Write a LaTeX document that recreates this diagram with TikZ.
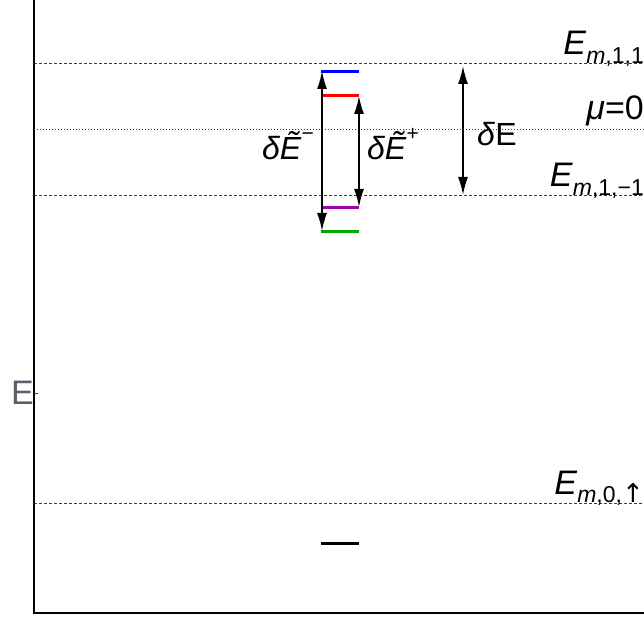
\documentclass[tikz,border=0pt]{standalone}
\usepackage{fontspec}
\setmainfont{Liberation Sans}
\newfontfamily\arrowfont{DejaVu Sans}
\usetikzlibrary{arrows.meta}
\definecolor{axiscol}{HTML}{000000}
\definecolor{refcol}{HTML}{3A3A3A}
\definecolor{labelgray}{HTML}{5A5F6A}
\definecolor{levelblue}{HTML}{0000FF}
\definecolor{levelred}{HTML}{FF0000}
\definecolor{levelpurple}{HTML}{A000B0}
\definecolor{levelgreen}{HTML}{00AA00}
\newcommand{\lowsub}[1]{\raisebox{-0.25em}{\fontsize{23}{23}\selectfont #1}}
\newcommand{\highsup}[1]{\raisebox{0.6em}{\fontsize{21}{21}\selectfont #1}}

\begin{document}
\begin{tikzpicture}[x=1pt,y=-1pt,
  refline/.style={refcol, line width=1pt, dash pattern=on 3pt off 2pt},
  muline/.style={refcol, line width=1pt, dash pattern=on 1pt off 2pt},
  level/.style={line width=3pt},
  gap/.style={{Latex[length=18pt,width=10pt]}-{Latex[length=18pt,width=10pt]}, line width=1.6pt},
  biglabel/.style={font=\fontsize{34}{34}\selectfont, inner sep=0pt},
  gaplabel/.style={font=\fontsize{32}{32}\selectfont, inner sep=0pt}]
\useasboundingbox (0,0) rectangle (644,617);

% === Axes ===
\coordinate (top) at (34,0);
\coordinate (origin) at (34,613);
\coordinate (right) at (644,613);
\draw[axiscol, line width=2.2pt] (top) -- (origin) -- (right);
\coordinate (tick) at (34,393);
\coordinate (tickend) at (38,393);
\draw[refcol, line width=1pt] (tick) -- (tickend);
\node[biglabel, labelgray, anchor=base west] (elabel) at (11,404) {E};

% === Reference energies ===
\coordinate (e11l) at (34,64);   \coordinate (e11r) at (644,64);
\coordinate (mul) at (34,130);   \coordinate (mur) at (644,130);
\coordinate (e1ml) at (34,196);  \coordinate (e1mr) at (644,196);
\coordinate (e0l) at (34,503);   \coordinate (e0r) at (644,503);
\draw[refline] (e11l) -- (e11r);
\draw[muline] (mul) -- (mur);
\draw[refline] (e1ml) -- (e1mr);
\draw[refline] (e0l) -- (e0r);

\node[biglabel, anchor=base east] (e11lbl) at (644,55)
  {\textit{E}\lowsub{\textit{m},1,1}};
\node[biglabel, anchor=base east] (mulbl) at (644,120) {\textit{μ}=0};
\node[biglabel, anchor=base east] (e1mlbl) at (644,187)
  {\textit{E}\lowsub{\textit{m},1,−1}};
\node[biglabel, anchor=base east] (e0lbl) at (644,494)
  {\textit{E}\lowsub{\textit{m},0,{\arrowfont\fontsize{26}{26}\selectfont ↑}}};

% === Levels ===
\coordinate (bluel) at (321,72);   \coordinate (bluer) at (359,72);
\coordinate (redl) at (321,96);    \coordinate (redr) at (359,96);
\coordinate (purpl) at (321,208);  \coordinate (purpr) at (359,208);
\coordinate (greenl) at (321,232); \coordinate (greenr) at (359,232);
\coordinate (blackl) at (321,543); \coordinate (blackr) at (359,543);
\draw[level, levelblue] (bluel) -- (bluer);
\draw[level, levelred] (redl) -- (redr);
\draw[level, levelpurple] (purpl) -- (purpr);
\draw[level, levelgreen] (greenl) -- (greenr);
\draw[level, black] (blackl) -- (blackr);

% === Gaps ===
\coordinate (minustop) at (322,71);  \coordinate (minusbot) at (322,231);
\coordinate (plustop) at (359,96);   \coordinate (plusbot) at (359,207);
\coordinate (detop) at (463,66);     \coordinate (debot) at (463,195);
\draw[gap] (minustop) -- (minusbot);
\draw[gap] (plustop) -- (plusbot);
\draw[gap] (detop) -- (debot);

\node[gaplabel, anchor=base west] (minuslbl) at (262,160)
  {\textit{δẼ}\highsup{−}};
\node[gaplabel, anchor=base west] (pluslbl) at (367,160)
  {\textit{δẼ}\highsup{+}};
\node[gaplabel, anchor=base west] (delbl) at (477,146) {\textit{δ}E};

\end{tikzpicture}
\end{document}
